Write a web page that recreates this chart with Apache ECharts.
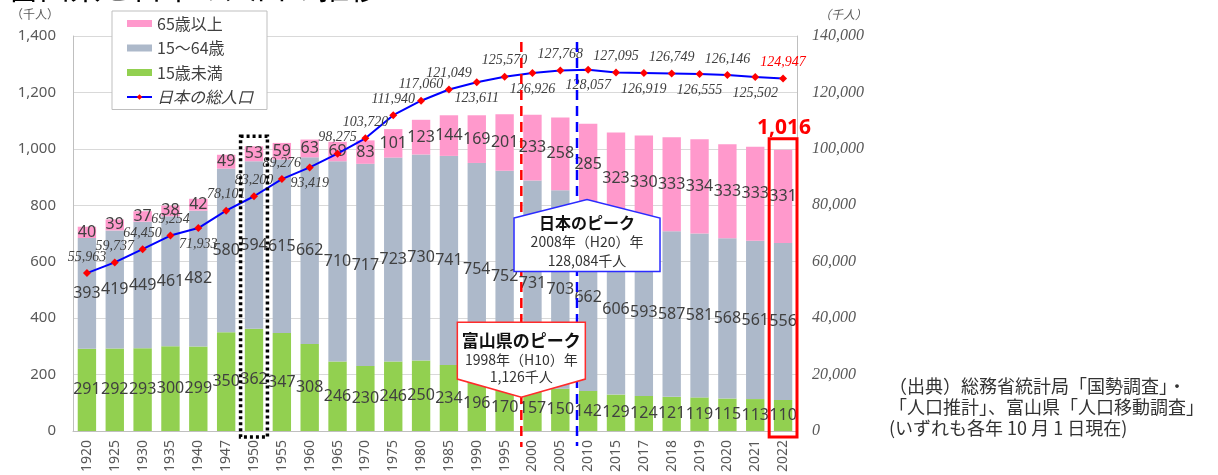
<!DOCTYPE html>
<html><head><meta charset="utf-8">
<script src="https://cdn.jsdelivr.net/npm/echarts@6/dist/echarts.min.js"></script>
<style>html,body{margin:0;padding:0;background:#fff;overflow:hidden}#c{width:1218px;height:475px}</style>
</head><body><div id="c"></div>
<script>
// ---- data ----
const years = ['1920','1925','1930','1935','1940','1947','1950','1955','1960','1965','1970','1975','1980','1985','1990','1995','2000','2005','2010','2015','2017','2018','2019','2020','2021','2022'];
const under15 = [291,292,293,300,299,350,362,347,308,246,230,246,250,234,196,170,157,150,142,129,124,121,119,115,113,110];
const age15to64 = [393,419,449,461,482,580,594,615,662,710,717,723,730,741,754,752,731,703,662,606,593,587,581,568,561,556];
const age65plus = [40,39,37,38,42,49,53,59,63,69,83,101,123,144,169,201,233,258,285,323,330,333,334,333,333,331];
const japanTotal = [55963,59737,64450,69254,71933,78101,83200,89276,93419,98275,103720,111940,117060,121049,123611,125570,126926,127768,128057,127095,126919,126749,126555,126146,125502,124947];
const seriesNames = ['65歳以上','15～64歳','15歳未満','日本の総人口'];
const leftAxisTicks = [0,1400,200];
const rightAxisTicks = [0,140000,20000];
const toyamaPeak = {year:1998, title:'富山県のピーク', line1:'1998年（H10）年', line2:'1,126千人'};
const japanPeak = {year:2008, title:'日本のピーク', line1:'2008年（H20）年', line2:'128,084千人'};
const highlightYear = '1950';
const latestYear = '2022';
const latestTotalText = '1,016';
const sourceLines = ['（出典）総務省統計局「国勢調査」・','「人口推計」、富山県「人口移動調査」','(いずれも各年 10 月 1 日現在)'];
const unitText = '（千人）';
const titleText = '富山県と日本の人口の推移';

(function(){
// ---- options ----
const belowYears = ['1940','1960','1990','2000','2010','2017','2019','2021'];
const comma = v => v.toLocaleString('en-US');
const sans = "'Noto Sans CJK JP','Noto Sans',sans-serif";
const serif = "'Liberation Serif','DejaVu Serif',serif";
const barLabel = {show:true, position:'inside', fontSize:16, color:'#404040', fontFamily:"'Noto Sans','Noto Sans CJK JP',sans-serif"};

const lineData = japanTotal.map((v,i)=>{
  const below = belowYears.includes(years[i]);
  const last = i === japanTotal.length-1;
  return {value:v, label:{position: below?'bottom':'top', color: last?'#ff0000':'#404040'}};
});

const chart = echarts.init(document.getElementById('c'));
chart.setOption({
  animation:false,
  textStyle:{fontFamily:sans},
  legend:{
    orient:'vertical', left:112, top:11, borderColor:'#bfbfbf', borderWidth:1, backgroundColor:'#fff',
    padding:[4,14,4,14], itemWidth:25, itemHeight:7, itemGap:7.5,
    textStyle:{fontSize:16, color:'#404040', lineHeight:17},
    data:[
      {name:seriesNames[0], icon:'rect'},
      {name:seriesNames[1], icon:'rect'},
      {name:seriesNames[2], icon:'rect'},
      {name:seriesNames[3], textStyle:{fontStyle:'italic'}}
    ]
  },
  grid:{left:73, right:421, top:36, bottom:43},
  xAxis:[{
    type:'category', data:years,
    axisLine:{lineStyle:{color:'#bfbfbf'}},
    axisTick:{lineStyle:{color:'#bfbfbf'}, length:5},
    axisLabel:{rotate:90, fontSize:14, color:'#595959', margin:9, interval:0, fontFamily:"'Noto Sans',sans-serif"}
  }],
  yAxis:[{
    type:'value', min:leftAxisTicks[0], max:leftAxisTicks[1], interval:leftAxisTicks[2],
    axisLine:{show:true, lineStyle:{color:'#bfbfbf'}}, axisTick:{show:false},
    axisLabel:{fontSize:15, color:'#595959', margin:17, formatter:comma, fontFamily:"'Noto Sans',sans-serif"},
    splitLine:{lineStyle:{color:'#d9d9d9', width:1}}
  },{
    type:'value', min:rightAxisTicks[0], max:rightAxisTicks[1], interval:rightAxisTicks[2], position:'right',
    axisLine:{show:true, lineStyle:{color:'#bfbfbf'}}, axisTick:{show:false},
    axisLabel:{fontSize:16, color:'#595959', margin:15, formatter:comma, fontFamily:serif, fontStyle:'italic'},
    splitLine:{show:false}
  }],
  series:[
    {name:seriesNames[2], type:'bar', stack:'p', data:under15, barWidth:'66%', itemStyle:{color:'#92d050'}, label:barLabel},
    {name:seriesNames[1], type:'bar', stack:'p', data:age15to64, itemStyle:{color:'#adb9ca'}, label:barLabel},
    {name:seriesNames[0], type:'bar', stack:'p', data:age65plus, itemStyle:{color:'#ff99cc'}, label:barLabel},
    {name:seriesNames[3], type:'line', yAxisIndex:1, data:lineData, z:5,
      symbol:'diamond', symbolSize:8, itemStyle:{color:'#ff0000'},
      lineStyle:{color:'#0000ff', width:2},
      label:{show:true, fontFamily:serif, fontStyle:'italic', fontSize:14, distance:5, formatter:p=>comma(p.value)}
    }
  ]
});

// ---- annotations positioned through the chart's own scales ----
const xPix = i => chart.convertToPixel({xAxisIndex:0}, i);
const yL = v => chart.convertToPixel({yAxisIndex:0}, v);
function yearPix(yr){
  const nums = years.map(Number);
  for(let i=0;i<nums.length-1;i++){
    if(yr>=nums[i] && yr<=nums[i+1]){
      const f=(yr-nums[i])/(nums[i+1]-nums[i]);
      return xPix(i)+f*(xPix(i+1)-xPix(i));
    }
  }
  return xPix(nums.length-1);
}
const gTop = yL(leftAxisTicks[1]);
const base = yL(0);
const band = xPix(1)-xPix(0);
const g = [];

// title (mostly cut off at the top edge, as in the original)
g.push({type:'text', x:8, y:-13, style:{text:titleText, fill:'#000', font:"31px "+sans, align:'left', verticalAlign:'middle'}, z:60});

const rx = yearPix(toyamaPeak.year), bx = yearPix(japanPeak.year);
g.push({type:'line', shape:{x1:rx,y1:gTop+6,x2:rx,y2:base+16}, style:{stroke:'#ff0000', lineWidth:2.5, lineDash:[10,6]}, z:50});
g.push({type:'line', shape:{x1:bx,y1:gTop+6,x2:bx,y2:base+15}, style:{stroke:'#0000ff', lineWidth:2.5, lineDash:[10,6]}, z:50});

// dotted box around 1950
const hi = years.indexOf(highlightYear);
const hx = xPix(hi), hTop = yL(under15[hi]+age15to64[hi]+age65plus[hi]) - 10;
g.push({type:'rect', shape:{x:hx-band/2+0.5, y:hTop, width:band-1, height:base+6-hTop}, style:{fill:'none', stroke:'#000', lineWidth:3.5, lineDash:[3,3]}, z:50});

// red box around 2022
const li = years.indexOf(latestYear);
const lx = xPix(li), lTop = yL(under15[li]+age15to64[li]+age65plus[li]) - 11;
g.push({type:'rect', shape:{x:lx-band/2, y:lTop, width:band, height:base+6-lTop}, style:{fill:'none', stroke:'#ff0000', lineWidth:3}, z:50});
g.push({type:'text', x:lx+1, y:lTop-11, style:{text:latestTotalText, fill:'#ff0000', font:"bold 21px 'Noto Sans',sans-serif", align:'center', verticalAlign:'middle'}, z:60});

// Japan peak callout (house shape)
const jc = bx + 10, jl = jc-73, jr = jc+73;
const jApex = yL(820), jSh = yL(755), jBot = yL(565);
g.push({type:'polygon', shape:{points:[[jl,jSh],[jc,jApex],[jr,jSh],[jr,jBot],[jl,jBot]]}, style:{fill:'#fff', stroke:'#2b2bff', lineWidth:1.5}, z:70});
g.push({type:'text', x:jc, y:jSh+5, style:{text:japanPeak.title, fill:'#111', font:"bold 16px "+sans, align:'center', verticalAlign:'middle'}, z:71});
g.push({type:'text', x:jc, y:jSh+24, style:{text:japanPeak.line1, fill:'#333', font:"14px "+sans, align:'center', verticalAlign:'middle'}, z:71});
g.push({type:'text', x:jc, y:jSh+43, style:{text:japanPeak.line2, fill:'#333', font:"14px "+sans, align:'center', verticalAlign:'middle'}, z:71});

// Toyama peak callout (arrow down)
const tc = rx, tl = tc-64, tr = tc+64;
const tTop = yL(385), tSh = yL(184), tApex = yL(120);
g.push({type:'polygon', shape:{points:[[tl,tTop],[tr,tTop],[tr,tSh],[tc,tApex],[tl,tSh]]}, style:{fill:'#fff', stroke:'#ff2b2b', lineWidth:1.5}, z:70});
g.push({type:'text', x:tc, y:tTop+18, style:{text:toyamaPeak.title, fill:'#111', font:"bold 17px "+sans, align:'center', verticalAlign:'middle'}, z:71});
g.push({type:'text', x:tc, y:tTop+37, style:{text:toyamaPeak.line1, fill:'#333', font:"14px "+sans, align:'center', verticalAlign:'middle'}, z:71});
g.push({type:'text', x:tc, y:tTop+54, style:{text:toyamaPeak.line2, fill:'#333', font:"14px "+sans, align:'center', verticalAlign:'middle'}, z:71});

// units
g.push({type:'text', x:35, y:gTop-22, style:{text:unitText, fill:'#595959', font:"12px "+sans, align:'center', verticalAlign:'middle'}, z:60});
g.push({type:'text', x:xPix(years.length-1)+band/2+46, y:gTop-22, style:{text:unitText, fill:'#595959', font:"italic 12px "+sans, align:'center', verticalAlign:'middle'}, z:60});

// source
sourceLines.forEach((t,k)=>{
  g.push({type:'text', x:889, y:386+k*21, style:{text:t, fill:'#333', font:"18px "+sans, align:'left', verticalAlign:'middle'}, z:60});
});

chart.setOption({graphic:g});
})();
</script>
</body></html>
